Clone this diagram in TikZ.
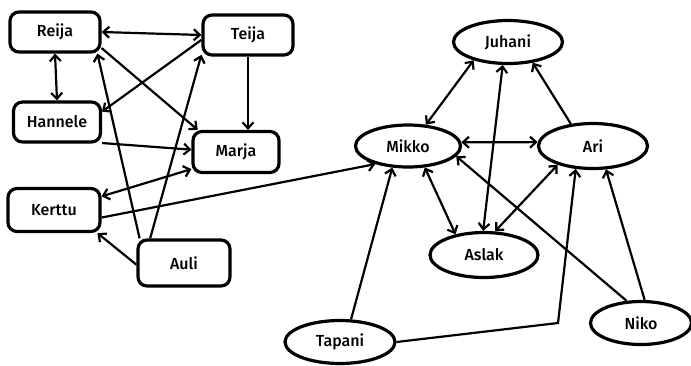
\documentclass[tikz,border=0pt]{standalone}
\usepackage{fontspec}
\setmainfont{Fira Sans}[BoldFont={Fira Sans Medium}]
\usetikzlibrary{arrows.meta,shapes.geometric}
\tikzset{
  person/.style={draw, line width=3.2pt, rounded corners=9pt, inner sep=0pt, font=\fontsize{16}{18}\selectfont\bfseries},
  oval/.style={draw, ellipse, line width=3.2pt, inner sep=0pt, font=\fontsize{16}{18}\selectfont\bfseries},
  link/.style={line width=2.2pt, -{Straight Barb[length=6pt,width=11pt,line width=2.2pt]}},
  blink/.style={line width=2.2pt, {Straight Barb[length=6pt,width=11pt,line width=2.2pt]}-{Straight Barb[length=6pt,width=11pt,line width=2.2pt]}},
  plain/.style={line width=2.2pt}
}
\begin{document}
\begin{tikzpicture}[x=1pt,y=-1pt]
\useasboundingbox (0,0) rectangle (691,365);
% left group
\node[person, minimum width=90pt, minimum height=40pt] (reija) at (55,32) {Reija};
\node[person, minimum width=90pt, minimum height=40pt] (teija) at (248,35) {Teija};
\node[person, minimum width=87pt, minimum height=40pt] (hannele) at (57,122) {Hannele};
\node[person, minimum width=86pt, minimum height=41pt] (marja) at (236,152) {Marja};
\node[person, minimum width=92pt, minimum height=43pt] (kerttu) at (54,210) {Kerttu};
\node[person, minimum width=92pt, minimum height=46pt] (auli) at (184,263) {Auli};
% right group
\node[oval, minimum width=109pt, minimum height=43pt] (juhani) at (508,42) {Juhani};
\node[oval, minimum width=105pt, minimum height=42pt] (mikko) at (408,146) {Mikko};
\node[oval, minimum width=109pt, minimum height=45pt] (ari) at (593,146) {Ari};
\node[oval, minimum width=108pt, minimum height=45pt] (aslak) at (484,255) {Aslak};
\node[oval, minimum width=110pt, minimum height=43pt] (tapani) at (340,342) {Tapani};
\node[oval, minimum width=101pt, minimum height=43pt] (niko) at (641,323) {Niko};
\coordinate (bend) at (558,323);
% left edges
\draw[blink] (reija.east) -- (teija.west);
\draw[blink] (reija.south) -- (hannele.north);
\draw[link] (teija.186) -- (hannele.13);
\draw[link] (reija.341) -- (marja.150);
\draw[link] (teija.south) -- (teija.south |- marja.north);
\draw[link] (hannele.335) -- (marja.177);
\draw[blink] (kerttu.16) -- (marja.201);
\draw[link] (kerttu.351) -- (mikko.209);
\draw[link] (auli.182) -- (kerttu.332);
\draw[link] (auli.151) -- (reija.333);
\draw[link] (auli.144) -- (teija.203);
% right edges
\draw[blink] (mikko.50) -- (juhani.208);
\draw[blink] (mikko.4) -- (ari.176);
\draw[link] (ari.135) -- (juhani.320);
\draw[blink] (aslak.92) -- (juhani.257);
\draw[blink] (mikko.308) -- (aslak.144);
\draw[blink] (ari.208) -- (aslak.65);
\draw[link] (tapani.64) -- (mikko.234);
\draw[link] (tapani.east) -- (bend) -- (ari.233);
\draw[link] (niko.123) -- (mikko.348);
\draw[link] (niko.81) -- (ari.299);
\end{tikzpicture}
\end{document}
